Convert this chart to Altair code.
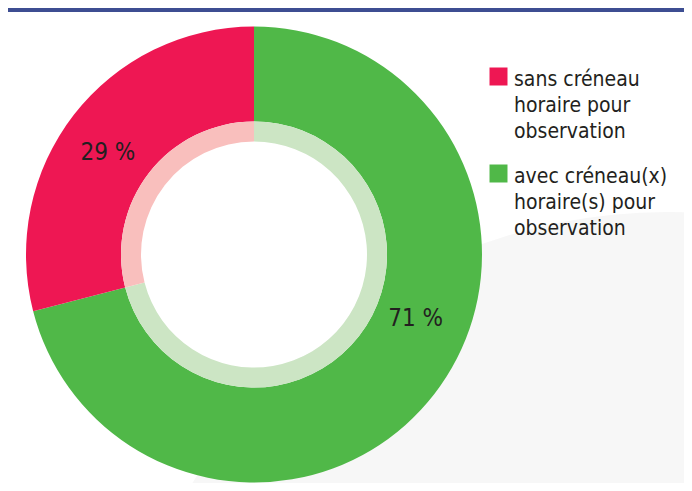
import altair as alt
import pandas as pd

# ---- data ----
categories = [
    "avec créneau(x)|horaire(s) pour|observation",
    "sans créneau|horaire pour|observation",
]
values = [71, 29]
stack_order = [0, 1]
main_colors = ["#50B848", "#EE1753"]
light_colors = ["#CCE5C4", "#F9BFBD"]
legend_order = [categories[1], categories[0]]

df = pd.DataFrame({
    "category": categories,
    "value": values,
    "order": stack_order,
    "light": light_colors,
})

W, H = 676, 475
CX, CY = 246, 246.5

base = alt.Chart(df)
dummy = pd.DataFrame({"d": [0]})

# subtle grey background disc (decoration)
bg = alt.Chart(dummy).mark_circle(
    x=659, y=755, size=1214404, color="#F7F7F7", opacity=1
).encode()

# white centre of the donut
hole = alt.Chart(dummy).mark_circle(
    x=CX, y=CY, size=226 * 226, color="#FFFFFF", opacity=1
).encode()

banner = alt.Chart(dummy).mark_rect(color="#3D4E92").encode(
    x=alt.value(0), x2=alt.value(W), y=alt.value(0), y2=alt.value(4)
)

donut = base.mark_arc(x=CX, y=CY, radius=228, radius2=133).encode(
    theta=alt.Theta("value:Q", stack=True),
    order=alt.Order("order:Q"),
    color=alt.Color(
        "category:N",
        scale=alt.Scale(domain=categories, range=main_colors),
        sort=legend_order,
        legend=alt.Legend(
            orient="none",
            legendX=480,
            legendY=67,
            title=None,
            symbolType="M-1,-2H1V0H-1Z",
            symbolSize=324,
            symbolStrokeWidth=0,
            symbolOpacity=1,
            labelFont="DejaVu Sans Condensed",
            labelFontSize=21,
            labelColor="#231F20",
            labelExpr="split(datum.label, '|')",
            labelBaseline="alphabetic",
            labelOffset=5,
            labelLimit=300,
            rowPadding=22,
            padding=0,
            values=legend_order,
        ),
    ),
)

ring = base.mark_arc(x=CX, y=CY, radius=133, radius2=113).encode(
    theta=alt.Theta("value:Q", stack=True),
    order=alt.Order("order:Q"),
    color=alt.Color("light:N", scale=None),
)

labels_base = base.transform_window(
    cum="sum(value)", sort=[alt.SortField("order")]
).transform_calculate(
    mid="datum.cum - datum.value / 2",
    label="datum.value + ' %'",
)

label_sans = labels_base.transform_filter("datum.order == 1").mark_text(
    x=CX, y=CY, radius=178, thetaOffset=-0.052,
    font="DejaVu Sans Condensed", fontSize=24, color="#231F20",
    align="center", baseline="middle",
).encode(theta=alt.Theta("mid:Q", stack=False), text="label:N")

label_avec = labels_base.transform_filter("datum.order == 0").mark_text(
    x=CX, y=CY, radius=174, thetaOffset=-0.281,
    font="DejaVu Sans Condensed", fontSize=24, color="#231F20",
    align="center", baseline="middle",
).encode(theta=alt.Theta("mid:Q", stack=False), text="label:N")

chart = alt.layer(bg, hole, banner, donut, ring, label_sans, label_avec).properties(
    width=W, height=H, padding=0, autosize=alt.AutoSizeParams(type="none")
).configure(
    style={"guide-label": {"lineHeight": 26}},
    view=alt.ViewConfig(stroke=None),
)

chart.save("out.html", embed_options={"renderer": "svg", "actions": False})
